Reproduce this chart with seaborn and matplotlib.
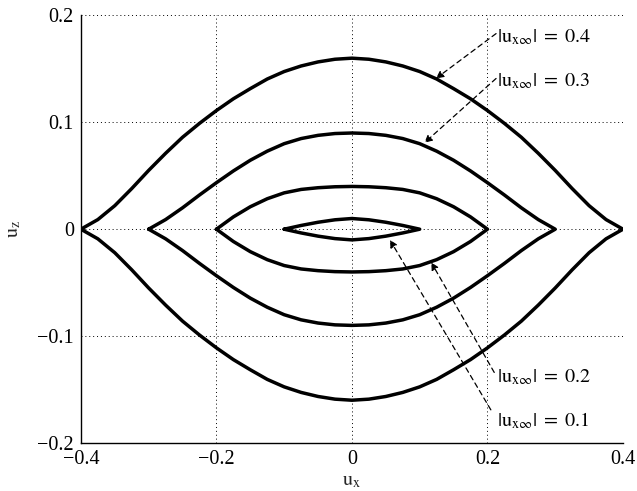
import numpy as np
import pandas as pd
import matplotlib
matplotlib.use("Agg")
import matplotlib.pyplot as plt
import seaborn as sns

# ---- data (left half, upper branch; curves are mirror-symmetric) ----
amplitudes = [0.1, 0.2, 0.3, 0.4]
x_half_01 = [-0.10, -0.075, -0.05, -0.025, 0.0]
z_half_01 = [0.0, 0.0035, 0.0065, 0.0088, 0.010]
x_half_02 = [-0.20, -0.175, -0.15, -0.125, -0.10, -0.075, -0.05, -0.025, 0.0]
z_half_02 = [0.0, 0.0115, 0.021, 0.0285, 0.034, 0.0372, 0.0388, 0.0397, 0.040]
x_half_03 = [-0.30, -0.275, -0.25, -0.225, -0.20, -0.175, -0.15, -0.125, -0.10, -0.075, -0.05, -0.025, 0.0]
z_half_03 = [0.0, 0.009, 0.020, 0.032, 0.0435, 0.0545, 0.0645, 0.073, 0.080, 0.0848, 0.0878, 0.0895, 0.090]
x_half_04 = [-0.40, -0.375, -0.35, -0.325, -0.30, -0.275, -0.25, -0.225, -0.20, -0.175, -0.15, -0.125, -0.10, -0.075, -0.05, -0.025, 0.0]
z_half_04 = [0.0, 0.009, 0.022, 0.038, 0.055, 0.071, 0.086, 0.099, 0.111, 0.122, 0.1315, 0.1405, 0.1475, 0.1527, 0.1565, 0.1590, 0.1600]

label_texts = [r'$|\mathrm{u}_{\mathrm{x}\infty}|\;=\;0.4$', r'$|\mathrm{u}_{\mathrm{x}\infty}|\;=\;0.3$',
               r'$|\mathrm{u}_{\mathrm{x}\infty}|\;=\;0.2$', r'$|\mathrm{u}_{\mathrm{x}\infty}|\;=\;0.1$']
label_xy = [(0.2146, 0.175), (0.2146, 0.1336), (0.2146, -0.1435), (0.2146, -0.1848)]
arrow_start = [(0.2127, 0.183), (0.2127, 0.141), (0.210, -0.134), (0.205, -0.169)]
arrow_end = [(0.124, 0.141), (0.107, 0.0808), (0.117, -0.031), (0.056, -0.010)]

xticks = [-0.4, -0.2, 0, 0.2, 0.4]
yticks = [-0.2, -0.1, 0, 0.1, 0.2]
xtick_labels = ['\u22120.4', '\u22120.2', '0', '0.2', '0.4']
ytick_labels = ['\u22120.2', '\u22120.1', '0', '0.1', '0.2']

# ---- build closed curves ----
halves = {0.1: (x_half_01, z_half_01), 0.2: (x_half_02, z_half_02),
          0.3: (x_half_03, z_half_03), 0.4: (x_half_04, z_half_04)}
rows = []
for a in amplitudes:
    xh, zh = halves[a]
    xh = list(xh); zh = list(zh)
    xr = [-v for v in xh[::-1]][1:]
    zr = zh[::-1][1:]
    xu = xh + xr
    zu = zh + zr
    xl = xu[::-1][1:]
    zl = [-v for v in zu[::-1]][1:]
    xs = xu + xl
    zs = zu + zl
    for i, (xv, zv) in enumerate(zip(xs, zs)):
        rows.append({'curve': a, 'order': i, 'ux': xv, 'uz': zv})
df = pd.DataFrame(rows)

sns.set_style('white')
plt.rcParams['font.family'] = ['Liberation Serif', 'DejaVu Serif']
plt.rcParams['mathtext.fontset'] = 'stix'

fig = plt.figure(figsize=(6.37, 4.91), dpi=100)
ax = fig.add_axes([0.127, 0.0978, 0.851, 0.8708])

sns.lineplot(data=df, x='ux', y='uz', units='curve', estimator=None, sort=False,
             color='black', linewidth=2.5, ax=ax, legend=False)
for ln in ax.get_lines():
    ln.set_solid_joinstyle('round')
    ln.set_solid_capstyle('round')

ax.set_xlim(-0.4, 0.4)
ax.set_ylim(-0.2, 0.2)
ax.set_xticks(xticks)
ax.set_xticklabels(xtick_labels)
ax.set_yticks(yticks)
ax.set_yticklabels(ytick_labels)
ax.tick_params(direction='in', length=4, width=0.8, labelsize=14.5, colors='black', pad=5)
ax.grid(True, linestyle=(0, (1, 3)), color='black', linewidth=0.7)
for s in ['top', 'right']:
    ax.spines[s].set_visible(False)
for s in ['left', 'bottom']:
    ax.spines[s].set_color('black')
    ax.spines[s].set_linewidth(1.0)

ax.set_xlabel(r'$\mathrm{u}_{\mathrm{x}}$', fontsize=14.5, labelpad=2)
ax.set_ylabel(r'$\mathrm{u}_{\mathrm{z}}$', fontsize=14.5, labelpad=10)

for txt, (tx, ty), s, e in zip(label_texts, label_xy, arrow_start, arrow_end):
    ax.text(tx, ty, txt, fontsize=14.5, ha='left', va='baseline', color='black')
    ax.annotate('', xy=e, xytext=s,
                arrowprops=dict(arrowstyle='-|>', linestyle=(0, (4, 3)), lw=0.9,
                                color='black', mutation_scale=11, shrinkA=0, shrinkB=0))

fig.savefig('out.png', dpi=100)
